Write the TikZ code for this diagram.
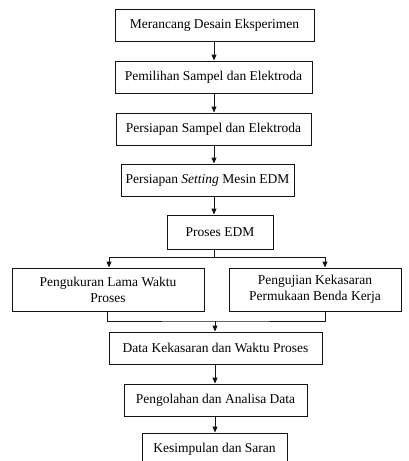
\documentclass[tikz,border=0pt]{standalone}
\usepackage{fontspec}
\setmainfont{Liberation Serif}
\usepackage{tikz}
\usetikzlibrary{positioning,arrows.meta,calc}
\definecolor{dLine}{RGB}{20,20,20}
\tikzset{
  stepbox/.style={rectangle, draw=dLine, line width=0.9pt, fill=white,
                  minimum height=32pt, align=center, inner sep=2pt,
                  font=\fontsize{13.5}{16}\selectfont},
  flow/.style={-{Triangle[length=6pt,width=5pt]}, draw=dLine, line width=0.9pt},
  wire/.style={draw=dLine, line width=0.9pt},
}

\begin{document}
\begin{tikzpicture}[x=1pt, y=-1pt]
  \clip (0,0) rectangle (409,461);
  \fill[white] (0,0) rectangle (409,461);
  \coordinate (axis) at (214,0);
  \node[stepbox, minimum width=199pt] (design) at (214.5,25) {Merancang Desain Eksperimen};
  \node[stepbox, minimum width=197pt] (select) at (213.5,77) {Pemilihan Sampel dan Elektroda};
  \node[stepbox, minimum width=195pt] (prep) at (213.5,129) {Persiapan Sampel dan Elektroda};
  \node[stepbox, minimum width=173pt] (setup) at (207.5,180) {Persiapan \textit{Setting} Mesin EDM};
  \node[stepbox, minimum width=106pt, minimum height=34pt] (edm) at (220,232) {Proses EDM};
  \node[stepbox, minimum width=192pt, minimum height=43pt] (time) at (108,289.5)
    {Pengukuran Lama Waktu\\ Proses};
  \node[stepbox, minimum width=172pt, minimum height=43pt] (rough) at (315,289.5)
    {Pengujian Kekasaran\\ Permukaan Benda Kerja};
  \node[stepbox, minimum width=213pt] (data) at (215.5,348) {Data Kekasaran dan Waktu Proses};
  \node[stepbox, minimum width=183pt] (anal) at (215.5,400) {Pengolahan dan Analisa Data};
  \node[stepbox, minimum width=145pt] (concl) at (214.5,449) {Kesimpulan dan Saran};
  \coordinate (split) at (214,257);
  \coordinate (join) at (215,321);

  \draw[flow] (design.south -| axis) -- (select.north -| axis);
  \draw[flow] (select.south -| axis) -- (prep.north -| axis);
  \draw[flow] (prep.south -| axis) -- (setup.north -| axis);
  \draw[flow] (setup.south -| axis) -- (edm.north -| axis);
  \draw[wire] (edm.south -| axis) -- (split);
  \draw[flow] (split) -| ([xshift=1pt]time.north);
  \draw[flow] (split) -| ([xshift=10pt]rough.north);
  \draw[wire] ([xshift=-1pt]time.south) |- (join) -| ([xshift=10pt]rough.south);
  \draw[flow] (join) -- (data.north -| join);
  \draw[flow] (data.south -| join) -- (anal.north -| join);
  \draw[flow] (anal.south -| join) -- (concl.north -| join);
\end{tikzpicture}
\end{document}
